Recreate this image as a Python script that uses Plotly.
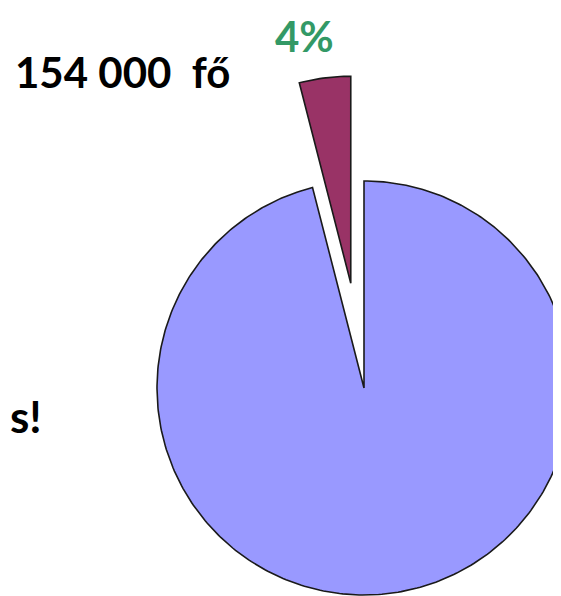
import numpy as np
import plotly.graph_objects as go

# ---- data ----
categories = ["egyéb", "154 000 fő"]
shares = [96, 4]            # percent
pulls = [0.0, 0.51]         # exploded fraction of radius
slice_colors = ["#9999FF", "#993366"]
headcount = 154000
side_text = "s!"

# ---- geometry / style ----
W, H = 561, 596
OFF = 8                     # page body margin offset
cx, cy, r = 364, 388, 207
outline = "#1a1a1a"

fig = go.Figure()
total = float(sum(shares))
cum = 0.0
for name, val, pull, col in zip(categories, shares, pulls, slice_colors):
    a0 = cum / total * 2 * np.pi
    a1 = (cum + val) / total * 2 * np.pi
    cum += val
    mid = (a0 + a1) / 2
    ox = pull * r * np.sin(mid)
    oy = -pull * r * np.cos(mid)
    th = np.linspace(a0, a1, max(8, int(400 * val / total)))
    xs = np.concatenate([[cx + ox], cx + ox + r * np.sin(th), [cx + ox]])
    ys = np.concatenate([[cy + oy], cy + oy - r * np.cos(th), [cy + oy]])
    fig.add_trace(go.Scatter(
        x=xs, y=ys, mode="lines", fill="toself", fillcolor=col,
        line=dict(color=outline, width=1.6), name=name,
        hoverinfo="name", showlegend=False,
    ))

hc = f"{headcount:,}".replace(",", " ")
fig.add_annotation(x=13, y=72, xref="x", yref="y", xanchor="left", yanchor="middle",
                   text=f"<b>{hc}\u00a0\u00a0fő</b>", showarrow=False,
                   font=dict(family="Lato", size=42, color="#000000"))
fig.add_annotation(x=304, y=OFF + 1, xref="x", yref="y", xanchor="center", yanchor="top",
                   text=f"<b>{shares[1]}%</b>", showarrow=False,
                   font=dict(family="Lato", size=42, color="#339966"))
fig.add_annotation(x=OFF, y=416, xref="x", yref="y", xanchor="left", yanchor="middle",
                   text=f"<b>{side_text}</b>", showarrow=False,
                   font=dict(family="Lato", size=44, color="#000000"))

fig.update_xaxes(range=[OFF, W + OFF], visible=False, fixedrange=True)
fig.update_yaxes(range=[H + OFF, OFF], visible=False, fixedrange=True)
fig.update_layout(width=W, height=H, margin=dict(l=0, r=0, t=0, b=0),
                  paper_bgcolor="white", plot_bgcolor="white", showlegend=False)

fig.write_html("out.html")
